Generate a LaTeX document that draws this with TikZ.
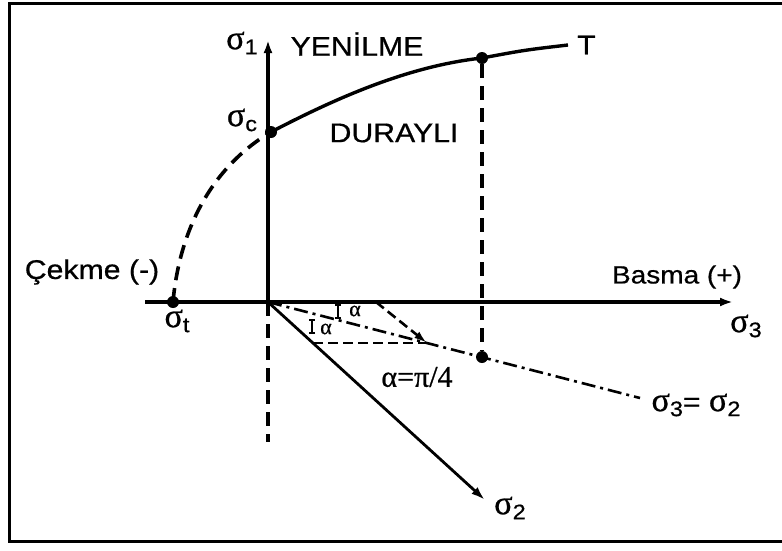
\documentclass[tikz,border=0pt]{standalone}
\usepackage{fontspec}
\setmainfont{Liberation Sans}[FakeStretch=1.12,FakeBold=0.6]
\newfontfamily\grk{Liberation Serif}[FakeBold=0.8]
\usetikzlibrary{arrows.meta,positioning}

\newcommand{\sgm}[1]{{\grk\fontsize{34}{34}\selectfont σ}{\fontsize{21}{21}\selectfont\raisebox{-0.45ex}{#1}}}

\begin{document}
\begin{tikzpicture}[x=1pt,y=-1pt,
  every node/.style={font=\fontsize{27}{30}\selectfont,inner sep=0pt},
  axis/.style={line width=3.6pt,-{Latex[length=13pt,width=9pt]}},
  guide/.style={line width=3.6pt,dash pattern=on 14pt off 8pt},
  thin guide/.style={line width=2.6pt,dash pattern=on 10pt off 5pt},
  chain/.style={line width=2.6pt,dash pattern=on 14pt off 5pt on 3pt off 5pt},
  dot/.style={circle,fill=black,minimum size=12pt,inner sep=0pt},
  tick/.style={line width=2.2pt,{Bar[width=6pt]}-{Bar[width=6pt]}},
  grklbl/.style={font=\grk\fontsize{30}{30}\selectfont}]
\useasboundingbox (0,0) rectangle (782,550);
\draw[line width=3pt] (784,3) -| (9,541) -- (784,541);
% axes
\coordinate (O) at (268,302);
\coordinate (xleft) at (145,302);
\coordinate (s3end) at (733,302);
\coordinate (s1end) at (268,40);
\coordinate (vbot) at (268,442);
\coordinate (s2end) at (485,500);
\coordinate (s23end) at (640,398);
\coordinate (Tend) at (568,45);
\draw[axis] (xleft) -- (s3end);
\draw[axis] (O) -- (s1end);
\draw[guide] (O) -- (vbot);
\draw[line width=2.8pt,-{Latex[length=14pt,width=9pt]}] (O) -- (s2end);
\draw[chain] (O) -- (s23end);
% points
\node[dot] (sc) at (271,132) {};
\node[dot] (st) at (173,302) {};
\node[dot] (ty) at (482,58) {};
\node[dot] (tz) at (482,357) {};
% envelope
\draw[line width=3.4pt] (sc.center) .. controls (340,96) and (410,66) .. (ty.center) .. controls (525,50) .. (Tend);
\draw[guide] (st.center) .. controls (180,225) and (215,165) .. (sc.center);
\draw[guide] (ty) -- (tz);
% small triangle
\coordinate (A) at (376,302);
\coordinate (V) at (427,343);
\coordinate (B) at (313,343);
\draw[thin guide,-{Latex[length=13pt,width=8pt]}] (A) -- (V);
\draw[thin guide] (B) -- (V);
\draw[tick] (338,304) -- (338,319);
\draw[tick] (312,319) -- (312,334);
% labels
\node (s1lbl) at (242,43) {\sgm{1}};
\node (yen) at (357,44) {YENİLME};
\node[right=9pt of Tend] (tlbl) {T};
\node (sclbl) at (242,120) {\sgm{c}};
\node (dur) at (394,133) {DURAYLI};
\node (cek) at (92,272) {Çekme (-)};
\node (stlbl) at (177,321) {\sgm{t}};
\node[font=\fontsize{25}{30}\selectfont] (bas) at (677,277) {Basma (+)};
\node (s3lbl) at (746,326) {\sgm{3}};
\node (eqlbl) at (696,405) {\sgm{3}= \sgm{2}};
\node[grklbl] (alpi) at (417,377) {α=π/4};
\node (s2lbl) at (510,508) {\sgm{2}};
\node[grklbl,font=\grk\fontsize{22}{22}\selectfont] (a1) at (355,311) {α};
\node[grklbl,font=\grk\fontsize{22}{22}\selectfont] (a2) at (326,329) {α};
\end{tikzpicture}
\end{document}
